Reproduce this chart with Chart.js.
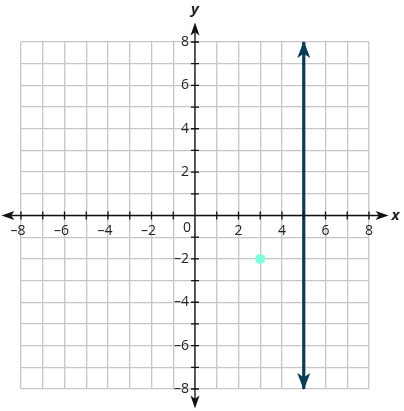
<!DOCTYPE html>
<html>
<head>
<meta charset="utf-8">
<script src="https://cdn.jsdelivr.net/npm/chart.js@4"></script>
<style>
  html, body { margin: 0; padding: 0; background: #fff; }
  #wrap { width: 404px; height: 411px; }
</style>
</head>
<body>
<div id="wrap"><canvas id="graph"></canvas></div>
<script>
// axis range and labels
const axisMin = -8;
const axisMax = 8;
const tickLabels = [-8, -6, -4, -2, 2, 4, 6, 8];

// vertical line x = 5, drawn between its two ends
const lineX = [5, 5];
const lineY = [8, -8];

// the single point
const pointX = [3];
const pointY = [-2];

const lineColor = "#0b3c57";
const pointColor = "#80ffdb";
const axisColor = "#111";
const fontFam = "'Open Sans', 'DejaVu Sans', sans-serif";

const fmt = (v) => (v < 0 ? "\u2013" + Math.abs(v) : String(v));

// draw a filled arrowhead pointing to (x, y) in direction (dx, dy)
const arrowHead = (ctx, x, y, dx, dy, len, half, color) => {
  const n = Math.hypot(dx, dy);
  const ux = dx / n, uy = dy / n;
  ctx.save();
  ctx.fillStyle = color;
  ctx.beginPath();
  ctx.moveTo(x, y);
  ctx.lineTo(x - ux * len - uy * half, y - uy * len + ux * half);
  ctx.lineTo(x - ux * len * 0.75, y - uy * len * 0.75);
  ctx.lineTo(x - ux * len + uy * half, y - uy * len - ux * half);
  ctx.closePath();
  ctx.fill();
  ctx.restore();
};

// axes with arrows, tick marks and labels
const axesPlugin = {
  id: "axes",
  afterDatasetsDraw(chart) {
    const { ctx, scales: { x, y } } = chart;
    const ox = x.getPixelForValue(0);
    const oy = y.getPixelForValue(0);
    const ext = 0.9;
    const xl = x.getPixelForValue(axisMin - ext);
    const xr = x.getPixelForValue(axisMax + ext);
    const yt = y.getPixelForValue(axisMax + ext);
    const yb = y.getPixelForValue(axisMin - ext);

    ctx.save();
    ctx.strokeStyle = axisColor;
    ctx.lineWidth = 1.3;
    ctx.beginPath();
    ctx.moveTo(xl + 6, oy);
    ctx.lineTo(xr - 6, oy);
    ctx.moveTo(ox, yt + 6);
    ctx.lineTo(ox, yb - 6);
    ctx.stroke();
    arrowHead(ctx, xl, oy, -1, 0, 13, 4.5, axisColor);
    arrowHead(ctx, xr, oy, 1, 0, 13, 4.5, axisColor);
    arrowHead(ctx, ox, yt, 0, -1, 13, 4.5, axisColor);
    arrowHead(ctx, ox, yb, 0, 1, 13, 4.5, axisColor);

    // tick marks
    ctx.beginPath();
    for (let v = axisMin; v <= axisMax; v++) {
      if (v === 0) continue;
      const px = x.getPixelForValue(v);
      ctx.moveTo(px, oy - 4);
      ctx.lineTo(px, oy + 4);
      const py = y.getPixelForValue(v);
      ctx.moveTo(ox - 4, py);
      ctx.lineTo(ox + 4, py);
    }
    ctx.stroke();

    // tick labels
    ctx.fillStyle = "#222";
    ctx.font = "14px " + fontFam;
    ctx.textAlign = "center";
    ctx.textBaseline = "middle";
    tickLabels.forEach((v) => {
      ctx.fillText(fmt(v), x.getPixelForValue(v) - (v < 0 ? 3 : 0), oy + 16);
    });
    ctx.textAlign = "right";
    tickLabels.forEach((v) => {
      ctx.fillText(fmt(v), ox - 6, y.getPixelForValue(v));
    });
    ctx.fillText("0", ox - 4, oy + 13);

    // axis names
    ctx.font = "italic bold 15px " + fontFam;
    ctx.textAlign = "left";
    ctx.fillText("x", xr + 3, oy);
    ctx.textAlign = "center";
    ctx.fillText("y", ox, yt - 13);
    ctx.restore();
  },
  afterDraw(chart) {
    // arrowheads on the x = 5 line
    const meta = chart.getDatasetMeta(0);
    const [a, b] = meta.data;
    arrowHead(chart.ctx, a.x, a.y - 1, 0, -1, 17, 6.5, lineColor);
    arrowHead(chart.ctx, b.x, b.y + 1, 0, 1, 17, 6.5, lineColor);
  },
};

const ctx = document.getElementById("graph").getContext("2d");

new Chart(ctx, {
  type: "scatter",
  data: {
    datasets: [
      {
        data: lineX.map((x, i) => ({ x, y: lineY[i] })),
        showLine: true,
        borderColor: lineColor,
        borderWidth: 3.2,
        pointRadius: 0,
        order: 2,
      },
      {
        data: pointX.map((x, i) => ({ x, y: pointY[i] })),
        backgroundColor: pointColor,
        borderWidth: 0,
        pointRadius: 5,
        order: 1,
      },
    ],
  },
  options: {
    responsive: true,
    maintainAspectRatio: false,
    animation: false,
    layout: { padding: { left: 21, right: 35, top: 42, bottom: 22 } },
    plugins: { legend: { display: false }, tooltip: { enabled: false } },
    scales: {
      x: {
        type: "linear",
        min: axisMin,
        max: axisMax,
        ticks: { display: false, stepSize: 1 },
        grid: { color: "#c6c6c6", lineWidth: 1.3, drawTicks: false },
        border: { display: false },
      },
      y: {
        type: "linear",
        min: axisMin,
        max: axisMax,
        ticks: { display: false, stepSize: 1 },
        grid: { color: "#c6c6c6", lineWidth: 1.3, drawTicks: false },
        border: { display: false },
      },
    },
  },
  plugins: [axesPlugin],
});
</script>
</body>
</html>
